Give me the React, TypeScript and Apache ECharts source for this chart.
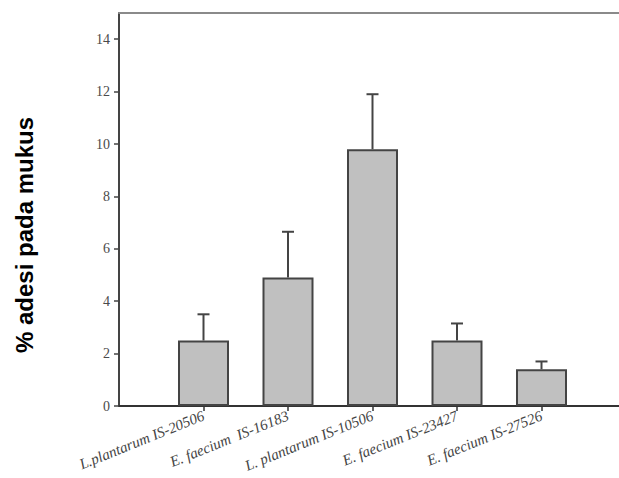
import React, { useEffect, useRef } from "react";
import * as echarts from "echarts";

const categories = [
  "L.plantarum IS-20506",
  "E. faecium  IS-16183",
  "L. plantarum IS-10506",
  "E. faecium IS-23427",
  "E. faecium IS-27526",
];
const means = [2.5, 4.9, 9.8, 2.5, 1.4];
const upperErrors = [3.5, 6.65, 11.9, 3.15, 1.7];
const yTicks = [0, 2, 4, 6, 8, 10, 12, 14];
const yAxisTitle = "% adesi pada mukus";

export default function App() {
  const ref = useRef<HTMLDivElement>(null);
  useEffect(() => {
    if (!ref.current) return;
    const chart = echarts.init(ref.current, null, { renderer: "svg" });
    const padded = ["", ...categories, ""];
    const barData = ["-", ...means, "-"];
    const errData = means.map((m, i) => [i + 1, m, upperErrors[i]]);
    chart.setOption({
      animation: false,
      backgroundColor: "#fff",
      grid: { left: 119, top: 13, right: -7, bottom: 72, outerBoundsMode: "none", containLabel: false },
      xAxis: [
        {
          type: "category",
          data: padded,
          boundaryGap: false,
          axisLine: { lineStyle: { color: "#333", width: 2 } },
          axisTick: {
            length: 5,
            lineStyle: { color: "#333", width: 1.5 },
            interval: (idx: number) => idx > 0 && idx < padded.length - 1,
          },
          axisLabel: {
            interval: 0,
            rotate: 22,
            margin: 9,
            color: "#444",
            fontFamily: "Liberation Serif",
            fontStyle: "italic",
            fontSize: 15,
          },
          splitLine: { show: false },
        },
        {
          type: "category",
          position: "top",
          data: padded,
          axisLine: { lineStyle: { color: "#8a8a8a", width: 2 } },
          axisTick: { show: false },
          axisLabel: { show: false },
        },
      ],
      yAxis: {
        type: "value",
        min: 0,
        max: 15,
        interval: 2,
        axisLine: { show: true, lineStyle: { color: "#444", width: 2 } },
        axisTick: { show: true, length: 5, customValues: yTicks, lineStyle: { color: "#444", width: 1.5 } },
        axisLabel: {
          customValues: yTicks,
          formatter: (v: number) => (v === 15 ? "" : String(v)),
          margin: 9,
          color: "#4a4a4a",
          fontFamily: "Liberation Serif",
          fontSize: 14,
        },
        splitLine: { show: false },
      },
      series: [
        {
          type: "bar",
          data: barData,
          barWidth: 51,
          itemStyle: { color: "#c0c0c0", borderColor: "#444", borderWidth: 2 },
          z: 2,
        },
        {
          type: "custom",
          data: errData,
          z: 3,
          renderItem: (params: any, api: any) => {
            const x = api.value(0);
            const top = api.coord([x, api.value(2)]);
            const base = api.coord([x, api.value(1)]);
            const half = 6;
            const style = { stroke: "#444", lineWidth: 2 };
            return {
              type: "group",
              children: [
                { type: "line", shape: { x1: top[0], y1: base[1], x2: top[0], y2: top[1] }, style },
                { type: "line", shape: { x1: top[0] - half, y1: top[1], x2: top[0] + half, y2: top[1] }, style },
              ],
            };
          },
        },
      ],
      graphic: [
        {
          type: "text",
          x: 24,
          y: 235,
          rotation: Math.PI / 2,
          style: {
            text: yAxisTitle,
            fill: "#000",
            font: "bold 24px 'Liberation Sans', Arial, sans-serif",
            align: "center",
            verticalAlign: "middle",
          },
        },
      ],
    });
    return () => chart.dispose();
  }, []);
  return (
    <div
      ref={ref}
      style={{ position: "fixed", left: 0, top: 0, width: 619, height: 478 }}
    />
  );
}
